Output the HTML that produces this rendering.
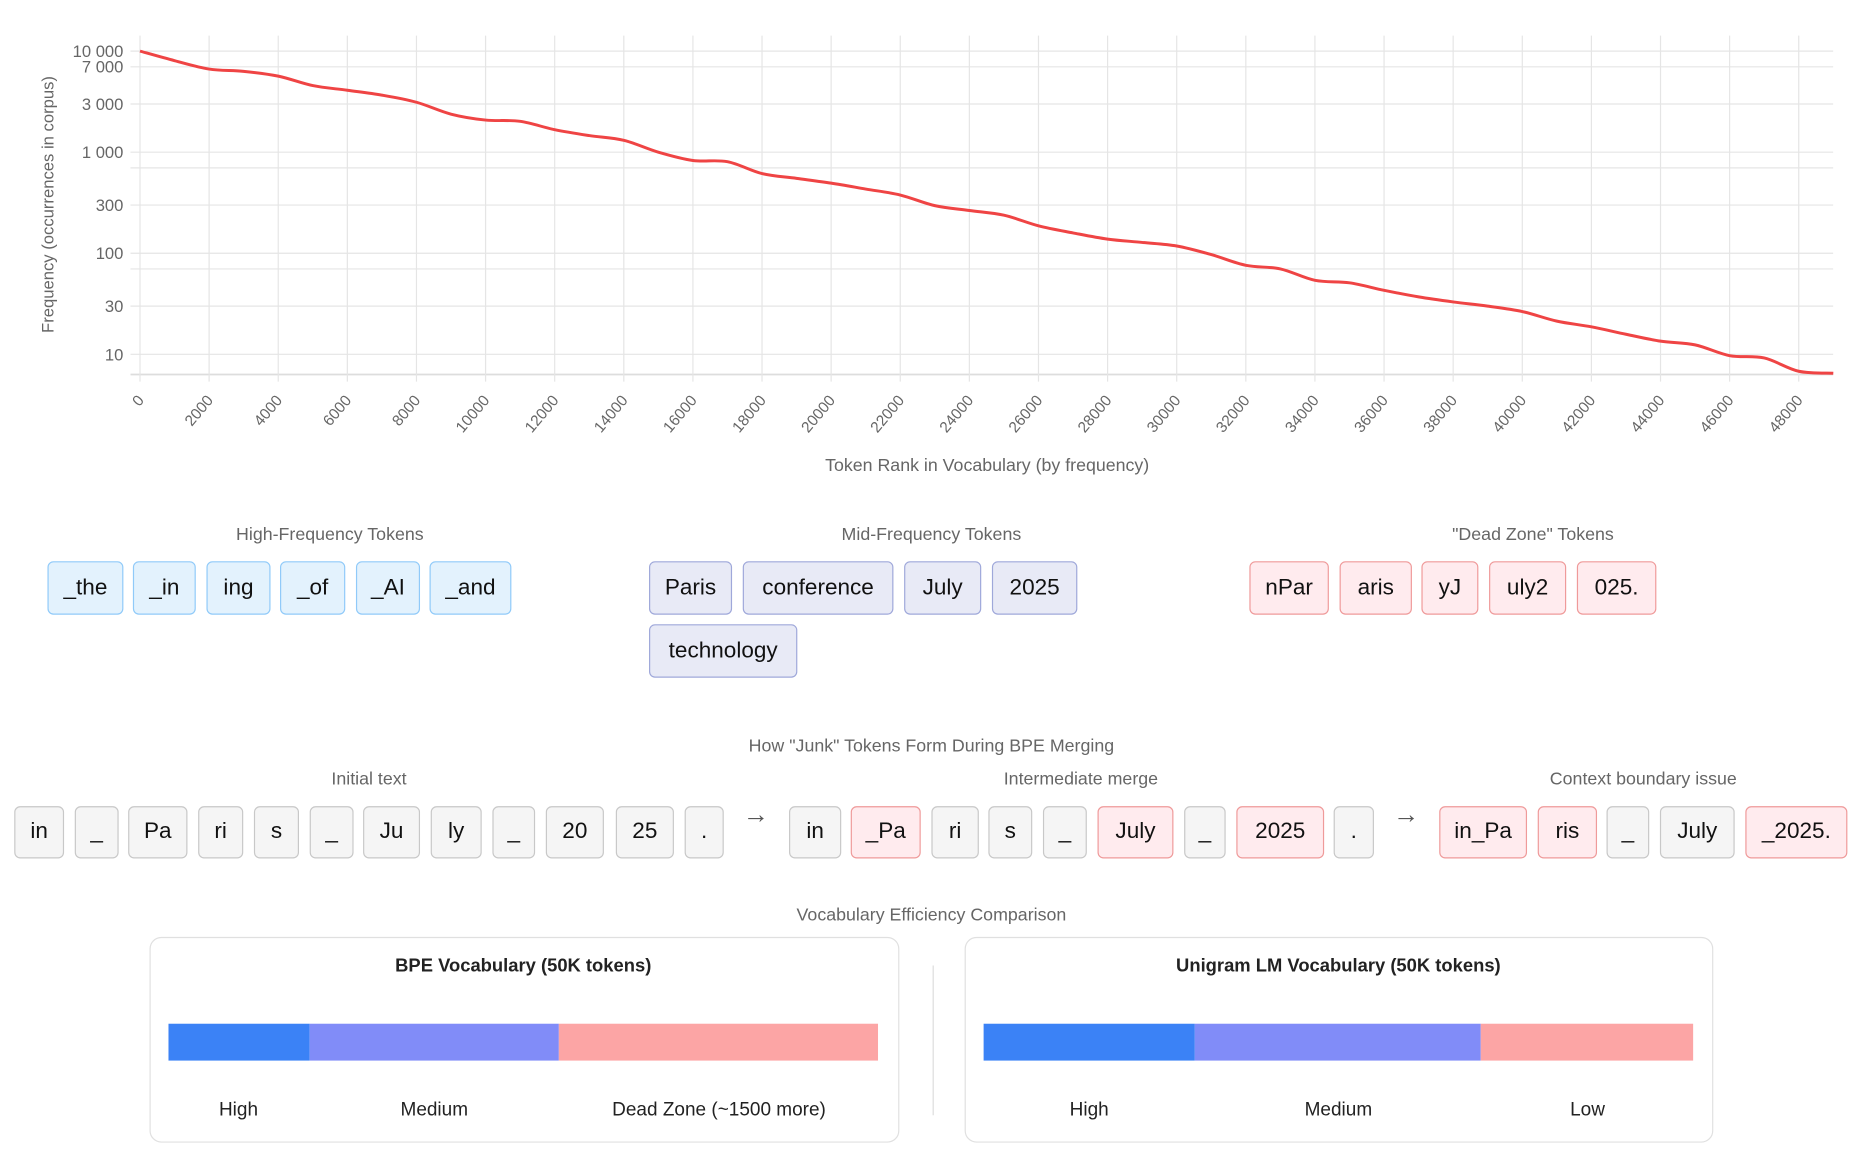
<!DOCTYPE html>
<html><head><meta charset="utf-8">
<style>
html,body{margin:0;padding:0;background:#fff;width:1860px;height:1159px;overflow:hidden}
#wrap{position:absolute;left:0;top:0;width:1560px;height:972px;transform:scale(1.1865,1.189);transform-origin:0 0;font-family:"Liberation Sans",sans-serif}
.t{position:absolute;color:#666;font-size:15px;transform:translateX(-50%);white-space:nowrap}
.chip{position:absolute;box-sizing:border-box;border:1px solid #ccc;border-radius:5px;display:flex;align-items:center;justify-content:center;font-size:19px;color:#111}
.hi{background:#e3f2fd;border-color:#90caf9}
.mid{background:#e8eaf6;border-color:#9fa8da}
.dead{background:#ffebee;border-color:#ef9a9a}
.gr{background:#f5f5f5;border-color:#c8c8c8}
.rd{background:#ffebee;border-color:#ef9a9a}
.box{position:absolute;box-sizing:border-box;border:1px solid #e0e0e0;border-radius:10px;top:788px;height:173px}
.seg{position:absolute;top:861px;height:31px}
.lab{position:absolute;top:925px;font-size:16px;color:#222;transform:translateX(-50%);white-space:nowrap}
.arrow{position:absolute;font-size:22px;color:#555;transform:translateX(-50%)}
</style></head><body>
<div id="wrap">
<svg id="chart" width="1560" height="410" style="position:absolute;left:0;top:0"></svg>

<div class="t" style="left:278px;top:441px">High-Frequency Tokens</div>
<div class="t" style="left:785px;top:441px">Mid-Frequency Tokens</div>
<div class="t" style="left:1292px;top:441px">"Dead Zone" Tokens</div>

<div class="chip hi" style="left:40px;top:472px;width:64px;height:45px">_the</div>
<div class="chip hi" style="left:112px;top:472px;width:53px;height:45px">_in</div>
<div class="chip hi" style="left:174px;top:472px;width:54px;height:45px">ing</div>
<div class="chip hi" style="left:236px;top:472px;width:55px;height:45px">_of</div>
<div class="chip hi" style="left:300px;top:472px;width:54px;height:45px">_AI</div>
<div class="chip hi" style="left:362px;top:472px;width:69px;height:45px">_and</div>

<div class="chip mid" style="left:547px;top:472px;width:70px;height:45px">Paris</div>
<div class="chip mid" style="left:626px;top:472px;width:127px;height:45px">conference</div>
<div class="chip mid" style="left:762px;top:472px;width:65px;height:45px">July</div>
<div class="chip mid" style="left:836px;top:472px;width:72px;height:45px">2025</div>
<div class="chip mid" style="left:547px;top:525px;width:125px;height:45px">technology</div>

<div class="chip dead" style="left:1053px;top:472px;width:67px;height:45px">nPar</div>
<div class="chip dead" style="left:1129px;top:472px;width:61px;height:45px">aris</div>
<div class="chip dead" style="left:1198px;top:472px;width:48px;height:45px">yJ</div>
<div class="chip dead" style="left:1255px;top:472px;width:65px;height:45px">uly2</div>
<div class="chip dead" style="left:1329px;top:472px;width:67px;height:45px">025.</div>

<div class="t" style="left:785px;top:619px">How "Junk" Tokens Form During BPE Merging</div>
<div class="t" style="left:311px;top:647px">Initial text</div>
<div class="t" style="left:911px;top:647px">Intermediate merge</div>
<div class="t" style="left:1385px;top:647px">Context boundary issue</div>

<div class="chip gr" style="left:12px;top:678px;width:42px;height:44px">in</div>
<div class="chip gr" style="left:63px;top:678px;width:37px;height:44px">_</div>
<div class="chip gr" style="left:108px;top:678px;width:50px;height:44px">Pa</div>
<div class="chip gr" style="left:167px;top:678px;width:38px;height:44px">ri</div>
<div class="chip gr" style="left:214px;top:678px;width:38px;height:44px">s</div>
<div class="chip gr" style="left:261px;top:678px;width:37px;height:44px">_</div>
<div class="chip gr" style="left:306px;top:678px;width:48px;height:44px">Ju</div>
<div class="chip gr" style="left:363px;top:678px;width:43px;height:44px">ly</div>
<div class="chip gr" style="left:415px;top:678px;width:36px;height:44px">_</div>
<div class="chip gr" style="left:460px;top:678px;width:49px;height:44px">20</div>
<div class="chip gr" style="left:519px;top:678px;width:49px;height:44px">25</div>
<div class="chip gr" style="left:577px;top:678px;width:33px;height:44px">.</div>
<div class="arrow" style="left:637px;top:672px">→</div>

<div class="chip gr" style="left:665px;top:678px;width:44px;height:44px">in</div>
<div class="chip rd" style="left:717px;top:678px;width:59px;height:44px">_Pa</div>
<div class="chip gr" style="left:785px;top:678px;width:40px;height:44px">ri</div>
<div class="chip gr" style="left:833px;top:678px;width:37px;height:44px">s</div>
<div class="chip gr" style="left:879px;top:678px;width:37px;height:44px">_</div>
<div class="chip rd" style="left:925px;top:678px;width:64px;height:44px">July</div>
<div class="chip gr" style="left:998px;top:678px;width:35px;height:44px">_</div>
<div class="chip rd" style="left:1042px;top:678px;width:74px;height:44px">2025</div>
<div class="chip gr" style="left:1124px;top:678px;width:34px;height:44px">.</div>
<div class="arrow" style="left:1185px;top:672px">→</div>

<div class="chip rd" style="left:1213px;top:678px;width:74px;height:44px">in_Pa</div>
<div class="chip rd" style="left:1296px;top:678px;width:50px;height:44px">ris</div>
<div class="chip gr" style="left:1354px;top:678px;width:36px;height:44px">_</div>
<div class="chip gr" style="left:1399px;top:678px;width:63px;height:44px">July</div>
<div class="chip rd" style="left:1471px;top:678px;width:86px;height:44px">_2025.</div>

<div class="t" style="left:785px;top:761px">Vocabulary Efficiency Comparison</div>
<div class="box" style="left:126px;width:632px"></div>
<div class="box" style="left:813px;width:631px"></div>
<div style="position:absolute;left:786px;top:812px;width:1px;height:126px;background:#ddd"></div>
<div class="lab" style="left:441px;top:804px;font-weight:600;font-size:15.5px">BPE Vocabulary (50K tokens)</div>
<div class="lab" style="left:1128px;top:804px;font-weight:600;font-size:15.5px">Unigram LM Vocabulary (50K tokens)</div>
<div class="seg" style="left:142px;width:119px;background:#3b82f6"></div>
<div class="seg" style="left:261px;width:210px;background:#818cf8"></div>
<div class="seg" style="left:471px;width:269px;background:#fca5a5"></div>
<div class="seg" style="left:829px;width:178px;background:#3b82f6"></div>
<div class="seg" style="left:1007px;width:241px;background:#818cf8"></div>
<div class="seg" style="left:1248px;width:179px;background:#fca5a5"></div>
<div class="lab" style="left:201px">High</div>
<div class="lab" style="left:366px">Medium</div>
<div class="lab" style="left:606px">Dead Zone (~1500 more)</div>
<div class="lab" style="left:918px">High</div>
<div class="lab" style="left:1128px">Medium</div>
<div class="lab" style="left:1338px">Low</div>
</div>
<script>
const ranks=[0,1000,2000,3000,4000,5000,6000,7000,8000,9000,10000,11000,12000,13000,14000,15000,16000,17000,18000,19000,20000,21000,22000,23000,24000,25000,26000,27000,28000,29000,30000,31000,32000,33000,34000,35000,36000,37000,38000,39000,40000,41000,42000,43000,44000,45000,46000,47000,48000,49000];
const freqs=[10000,8050,6650,6310,5660,4560,4100,3670,3120,2380,2080,2020,1670,1460,1310,1000,828,805,614,551,494,432,377,296,265,238,187,159,138,128,118,97,76,70,54,51,43,37,33,30,26.5,21.3,18.7,15.8,13.5,12.4,9.7,9.2,6.8,6.5];
const yTicks=[10000,7000,3000,1000,300,100,30,10];
const yTickLabels=["10 000","7 000","3 000","1 000","300","100","30","10"];
const yGrid=[10000,7000,3000,1000,700,300,100,70,30,10];
const xTicks=[0,2000,4000,6000,8000,10000,12000,14000,16000,18000,20000,22000,24000,26000,28000,30000,32000,34000,36000,38000,40000,42000,44000,46000,48000];
const NS="http://www.w3.org/2000/svg";
const svg=document.getElementById('chart');
const L=118,R=1545,T=30,B=315;
const X=v=>L+v*(1516-118)/48000;
const Y=v=>43+(4-Math.log10(v))*85;
function mk(t,a,p){const e=document.createElementNS(NS,t);for(const k in a)e.setAttribute(k,a[k]);(p||svg).appendChild(e);return e;}
yGrid.forEach(v=>{const l=mk('line',{x1:L-8,x2:R,y1:Y(v),y2:Y(v),stroke:'#e5e5e5','stroke-width':1});

});
mk('line',{x1:L-8,x2:R,y1:B,y2:B,stroke:'#ddd','stroke-width':1.5});
xTicks.forEach(v=>{const l=mk('line',{x1:X(v),x2:X(v),y1:T,y2:B+6,stroke:'#e5e5e5','stroke-width':1});


const t=mk('text',{x:X(v)+4,y:B+22,'text-anchor':'end',transform:`rotate(-50 ${X(v)+4} ${B+22})`,fill:'#666','font-size':13});
t.textContent=v;

});
yTicks.forEach((v,i)=>{const t=mk('text',{x:104,y:Y(v)+5,'text-anchor':'end',fill:'#666','font-size':14});
t.textContent=yTickLabels[i];

});
const yt=mk('text',{x:45,y:172,'text-anchor':'middle',transform:'rotate(-90 45 172)',fill:'#666','font-size':14});
yt.textContent='Frequency (occurrences in corpus)';


const xt=mk('text',{x:832,y:396,'text-anchor':'middle',fill:'#666','font-size':15});
xt.textContent='Token Rank in Vocabulary (by frequency)';


const pts=ranks.map((r,i)=>[X(r),Y(freqs[i])]);
let d=`M${pts[0][0]},${pts[0][1]}`;
for(let i=0;i<pts.length-1;i++){const p0=pts[Math.max(0,i-1)],p1=pts[i],p2=pts[i+1],p3=pts[Math.min(pts.length-1,i+2)];
d+=` C${p1[0]+(p2[0]-p0[0])/6},${p1[1]+(p2[1]-p0[1])/6} ${p2[0]-(p3[0]-p1[0])/6},${p2[1]-(p3[1]-p1[1])/6} ${p2[0]},${p2[1]}`;}
const path=mk('path',{d:d,fill:'none',stroke:'#ef4444','stroke-width':2.5});


</script>
</body></html>
